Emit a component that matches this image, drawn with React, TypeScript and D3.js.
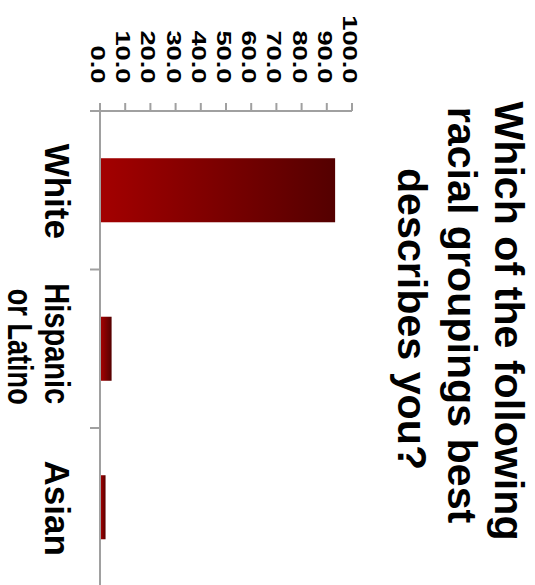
import React from "react";
import * as d3 from "d3";

// Survey responses (percent of respondents)
const categories = ["White", "Hispanic or Latino", "Asian"];
const categoryLines = [["White"], ["Hispanic", "or Latino"], ["Asian"]];
const values = [93.3, 4.6, 2.2];
const tickValues = [0, 10, 20, 30, 40, 50, 60, 70, 80, 90, 100];
const titleLines = ["Which of the following", "racial groupings best", "describes you?"];

const W = 535;
const H = 585;

export default function App() {
  // Chart is laid out turned a quarter-turn clockwise: values run left→right, categories top→bottom
  const x = d3.scaleLinear().domain([0, 100]).range([100, 352]);
  const y = d3
    .scaleBand<string>()
    .domain(categories)
    .range([111, 586.5])
    .paddingInner(0.596)
    .paddingOuter(0.298);

  const step = y.step();
  const fmt = d3.format(".1f");
  const axisColor = "#a0a0a0";

  const titleX = [495, 448, 398];
  const titleY = [321, 315, 319];

  return (
    <svg
      width={W}
      height={H}
      style={{ position: "absolute", left: 0, top: 0, background: "#fff" }}
      fontFamily="'Liberation Sans', Arial, Helvetica, sans-serif"
    >
      <defs>
        <linearGradient id="barFill" x1="0" y1="0" x2="1" y2="0">
          <stop offset="0%" stopColor="#a30000" />
          <stop offset="100%" stopColor="#540000" />
        </linearGradient>
      </defs>

      {/* title */}
      {titleLines.map((t, i) => (
        <text
          key={t}
          transform={`translate(${titleX[i]},${titleY[i]}) rotate(90)`}
          textAnchor="middle"
          fontSize={41.2}
          fontWeight="bold"
          fill="#000"
        >
          {t}
        </text>
      ))}

      {/* bars */}
      {categories.map((c, i) => (
        <rect
          key={c}
          x={x(0) + 1}
          y={y(c)!}
          width={x(values[i]) - x(0) - 1}
          height={y.bandwidth()}
          fill="url(#barFill)"
        />
      ))}

      {/* value axis */}
      <line x1={90} x2={x(100)} y1={111} y2={111} stroke={axisColor} strokeWidth={2} />
      {tickValues.map((v) => (
        <line key={v} x1={x(v)} x2={x(v)} y1={103} y2={111} stroke={axisColor} strokeWidth={2} />
      ))}
      {tickValues.map((v) => (
        <text
          key={v}
          transform={`translate(${x(v) - 9},83.5) rotate(90) scale(1.33,1)`}
          textAnchor="end"
          fontWeight="bold"
          fontSize={20.5}
          fill="#000"
        >
          {fmt(v)}
        </text>
      ))}

      {/* category axis */}
      <line x1={100} x2={100} y1={103} y2={H + 5} stroke={axisColor} strokeWidth={2} />
      {categories.map((c, i) => {
        const edge = 111 + step * (i + 1);
        return (
          <line key={c} x1={90} x2={100} y1={edge} y2={edge} stroke={axisColor} strokeWidth={2} />
        );
      })}
      {categories.map((c, i) => {
        const cy = y(c)! + y.bandwidth() / 2;
        const lines = categoryLines[i];
        return lines.map((line, j) => (
          <text
            key={c + j}
            transform={`translate(${45 - j * 37},${cy + (lines.length > 1 ? -5 + j * 3 : 1)}) rotate(90)`}
            textAnchor="middle"
            fontSize={35}
            fontWeight="bold"
            fill="#000"
            {...(lines.length > 1
              ? { textLength: j === 0 ? 121 : 116, lengthAdjust: "spacingAndGlyphs" }
              : {})}
          >
            {line}
          </text>
        ));
      })}
    </svg>
  );
}
